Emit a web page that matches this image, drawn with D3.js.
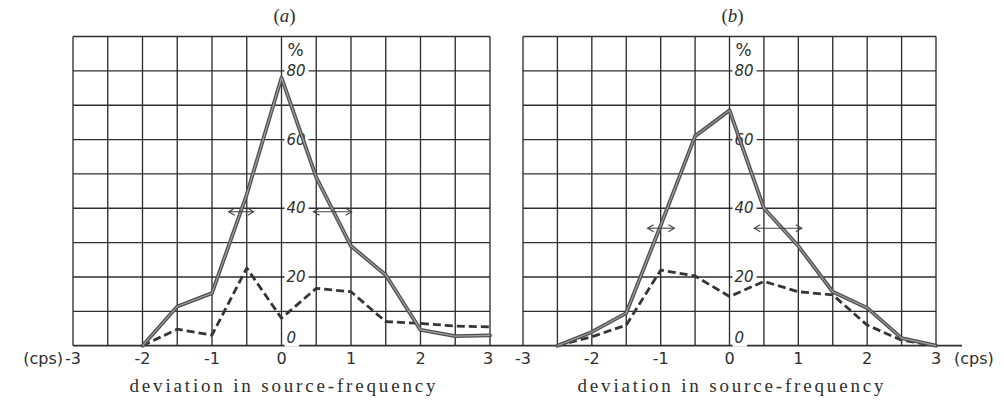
<!DOCTYPE html>
<html><head><meta charset="utf-8">
<script src="https://cdn.jsdelivr.net/npm/d3@7"></script>
<style>body{margin:0;background:#fff}</style>
</head><body>
<svg id="c" width="1004" height="402"></svg>
<script>
const panelTitles = ["a", "b"];
const xTickValues = [-3,-2,-1,0,1,2,3];
const xTickLabels = ["-3","-2","-1","0","1","2","3"];
const yTickValues = [0,20,40,60,80];
const yTickLabels = ["0","20","40","60","80"];
const xLabel = "deviation in source-frequency";
const unitLabel = "(cps)";
const percentLabel = "%";

const aX = [-2,-1.5,-1,-0.5,0,0.5,1,1.5,2,2.5,3];
const aSolid = [0,11.4,15.3,44,78,49,29,20.6,4.6,2.8,3];
const aDashed = [0,4.8,3.1,22.6,8,16.7,15.7,7,6.5,5.7,5.5];
const aArrows = [[-0.76,-0.40],[0.46,1.01]];
const aHalf = 39;

const bX = [-2.5,-2,-1.5,-1,-0.5,0,0.5,1,1.5,2,2.5,3];
const bSolid = [0,4,9.5,35,61,68.5,40,29,15.7,11,2.2,0];
const bDashed = [0,2.6,6,22,20.3,14.3,18.7,15.7,14.8,6,1.6,0];
const bArrows = [[-1.19,-0.80],[0.36,1.05]];
const bHalf = 34.2;

const svg = d3.select("#c");
const y = d3.scaleLinear().domain([0,90]).range([345.7,36.5]);
const ink = "#2e2e2e";

const panels = [
  {title: panelTitles[0], xs: aX, solid: aSolid, dashed: aDashed, arrows: aArrows, half: aHalf, range:[73,490], unit:"left"},
  {title: panelTitles[1], xs: bX, solid: bSolid, dashed: bDashed, arrows: bArrows, half: bHalf, range:[523,936], unit:"right"}
];

// continuous baseline across both panels
svg.append("line").attr("x1",73).attr("x2",962).attr("y1",y(0)).attr("y2",y(0))
  .attr("stroke",ink).attr("stroke-width",1.8);

panels.forEach((p,i) => {
  const x = d3.scaleLinear().domain([-3,3]).range(p.range);
  const g = svg.append("g");
  // grid
  const grid = g.append("g").attr("stroke",ink).attr("stroke-width",1.35).attr("fill","none");
  d3.range(-3,3.001,0.5).forEach(v => {
    grid.append("line").attr("x1",x(v)).attr("x2",x(v)).attr("y1",y(0)).attr("y2",y(90));
  });
  d3.range(10,90.001,10).forEach(v => {
    grid.append("line").attr("x1",x(-3)).attr("x2",x(3)).attr("y1",y(v)).attr("y2",y(v));
  });

  // y labels with white knockout
  const lab = g.append("g").attr("font-family","'DejaVu Sans', sans-serif").attr("font-size",15)
    .attr("font-style","italic").attr("fill",ink);
  yTickValues.forEach((v,k) => {
    const t = lab.append("text").attr("x",x(0)+5).attr("y", v===0 ? y(0)-3 : y(v)+5).text(yTickLabels[k]);
    const bb = t.node().getBBox();
    lab.insert("rect","text").attr("x",bb.x-2).attr("y",bb.y).attr("width",bb.width+5).attr("height",bb.height)
      .attr("fill","#fff").attr("stroke","none");
  });
  lab.append("text").attr("x",x(0)+6).attr("y",y(86)+6).attr("font-style","normal").attr("font-size",17).text(percentLabel);

  // lines
  const line = d3.line().x((d,k)=>x(p.xs[k])).y(d=>y(d));
  g.append("path").attr("d",line(p.dashed)).attr("fill","none").attr("stroke","#353535")
    .attr("stroke-width",2.8).attr("stroke-dasharray","8,4").attr("stroke-linejoin","round");
  g.append("path").attr("d",line(p.solid)).attr("fill","none").attr("stroke","#505050")
    .attr("stroke-width",3.8).attr("stroke-linejoin","round").attr("stroke-linecap","round");
  g.append("path").attr("d",line(p.solid)).attr("fill","none").attr("stroke","#a0a0a0")
    .attr("stroke-width",1.2).attr("stroke-linejoin","round");

  // half-width arrows
  p.arrows.forEach(a => {
    const ya = y(p.half), x1 = x(a[0]), x2 = x(a[1]);
    const ag = g.append("g").attr("stroke","#444").attr("stroke-width",1.1).attr("fill","none");
    ag.append("line").attr("x1",x1).attr("x2",x2).attr("y1",ya).attr("y2",ya);
    ag.append("path").attr("d",`M${x1+6},${ya-3.5}L${x1},${ya}L${x1+6},${ya+3.5}`);
    ag.append("path").attr("d",`M${x2-6},${ya-3.5}L${x2},${ya}L${x2-6},${ya+3.5}`);
  });

  // x tick labels
  const xt = g.append("g").attr("font-family","'DejaVu Sans', sans-serif").attr("font-size",16).attr("fill",ink)
    .attr("text-anchor","middle");
  xTickValues.forEach((v,k) => {
    xt.append("text").attr("x",x(v)+(k===xTickValues.length-1 && i===0 ? -2 : 0)).attr("y",364).text(xTickLabels[k]);
  });
  if (p.unit === "left") {
    xt.append("text").attr("x",x(-3)-10).attr("y",364).attr("text-anchor","end").text(unitLabel);
  } else {
    xt.append("text").attr("x",x(3)+18).attr("y",364).attr("text-anchor","start").text(unitLabel);
  }

  // title
  const tt = g.append("text").attr("x",x(0)+3).attr("y",22).attr("text-anchor","middle")
    .attr("font-family","'Liberation Serif', serif").attr("font-size",19).attr("fill",ink);
  tt.append("tspan").text("(");
  tt.append("tspan").attr("font-style","italic").text(p.title);
  tt.append("tspan").text(")");

  // x axis label
  g.append("text").attr("x",x(0)+1).attr("y",392).attr("text-anchor","middle")
    .attr("font-family","'Liberation Serif', serif").attr("font-size",19).attr("fill",ink)
    .attr("textLength",306).attr("lengthAdjust","spacing").text(xLabel);
});
</script>
</body></html>
